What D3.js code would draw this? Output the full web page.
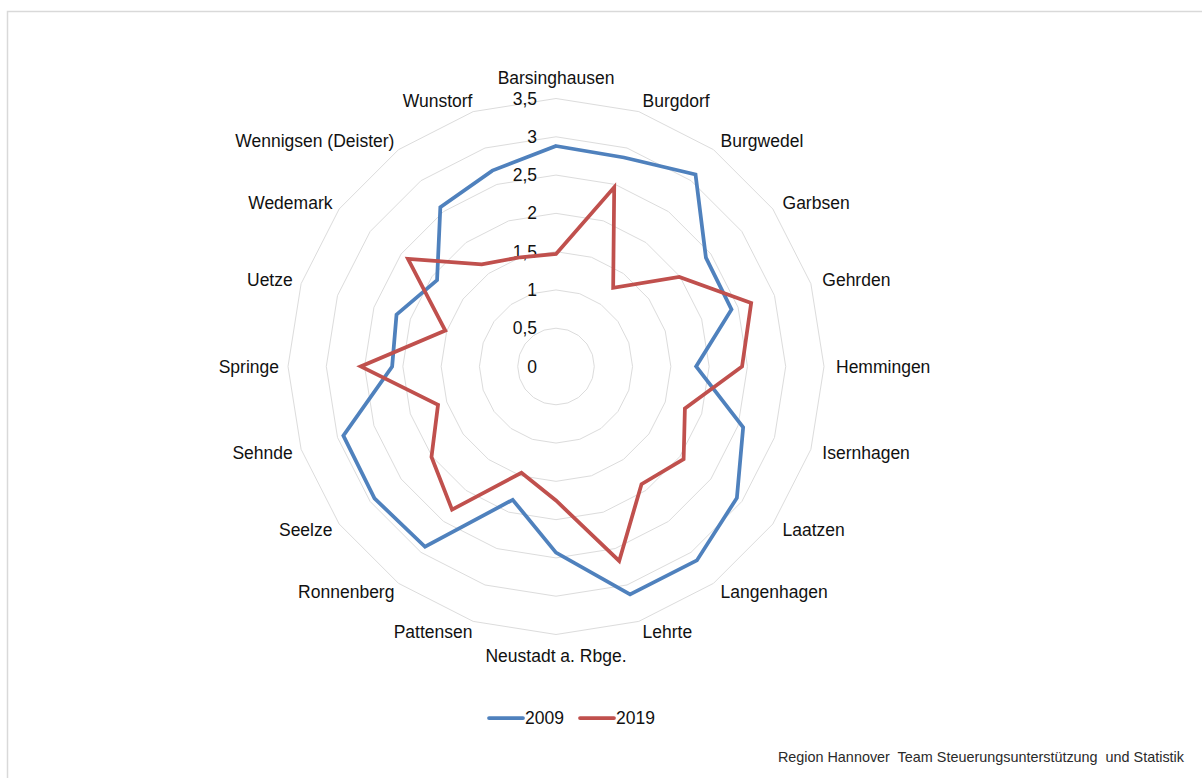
<!DOCTYPE html>
<html>
<head>
<meta charset="utf-8">
<script src="https://cdn.jsdelivr.net/npm/d3@7"></script>
<style>
  body { margin: 0; background: #fff; }
  text { font-family: "Liberation Sans", Arial, sans-serif; }
</style>
</head>
<body>
<div id="radar"></div>
<script>
// data
var categories = ["Barsinghausen", "Burgdorf", "Burgwedel", "Garbsen", "Gehrden",
  "Hemmingen", "Isernhagen", "Laatzen", "Langenhagen", "Lehrte",
  "Neustadt a. Rbge.", "Pattensen", "Ronnenberg", "Seelze", "Sehnde",
  "Springe", "Uetze", "Wedemark", "Wennigsen (Deister)", "Wunstorf"];
var values2009 = [2.88, 2.87, 3.10, 2.42, 2.41, 1.83, 2.57, 2.92, 3.13, 3.13,
  2.43, 1.83, 2.91, 2.93, 2.92, 2.14, 2.19, 1.92, 2.57, 2.69];
var values2019 = [1.47, 2.46, 1.27, 1.99, 2.68, 2.43, 1.77, 2.06, 1.90, 2.67,
  1.75, 1.46, 2.31, 2.01, 1.62, 2.55, 1.52, 2.39, 1.65, 1.50];
var tickValues = [0, 0.5, 1, 1.5, 2, 2.5, 3, 3.5];
var tickLabels = ["0", "0,5", "1", "1,5", "2", "2,5", "3", "3,5"];
var seriesNames = ["2009", "2019"];
var seriesColors = ["#4f81bd", "#c0504d"];

var width = 1202, height = 778;
var cx = 556, cy = 366.5, R = 268;

var svg = d3.select("#radar")
  .append("svg")
    .attr("width", width)
    .attr("height", height);

// outer frame
svg.append("rect")
  .attr("x", 7.5)
  .attr("y", 11.5)
  .attr("width", 1200)
  .attr("height", 800)
  .attr("fill", "none")
  .attr("stroke", "#d9d9d9")
  .attr("stroke-width", 1.5);

var r = d3.scaleLinear()
  .domain([0, 3.5])
  .range([0, R]);

var angle = d3.scaleLinear()
  .domain([0, categories.length])
  .range([0, 2 * Math.PI]);

var g = svg.append("g")
  .attr("transform", "translate(" + cx + "," + cy + ")");

// polygon grid rings
var ringLine = d3.lineRadial()
  .angle((d, i) => angle(i))
  .radius(d => r(d))
  .curve(d3.curveLinearClosed);

g.append("g")
  .selectAll("path")
  .data(tickValues.filter(t => t > 0))
  .enter()
  .append("path")
    .attr("d", t => ringLine(categories.map(() => t)))
    .attr("fill", "none")
    .attr("stroke", "#dcdcdc")
    .attr("stroke-width", 1);

// ring labels
g.append("g")
  .selectAll("text")
  .data(tickValues)
  .enter()
  .append("text")
    .attr("x", -19)
    .attr("y", d => -r(d))
    .attr("dominant-baseline", "central")
    .attr("text-anchor", "end")
    .attr("font-size", "17.5px")
    .attr("fill", "#111")
    .text((d, i) => tickLabels[i]);

// category labels
g.append("g")
  .selectAll("text")
  .data(categories)
  .enter()
  .append("text")
    .attr("x", (d, i) => {
      var s = Math.sin(angle(i));
      return (R + 12) * s + (s < -0.01 ? 3 : 0);
    })
    .attr("y", (d, i) => {
      var c = Math.cos(angle(i));
      var extra = Math.abs(c) > 0.99 ? 10 : 0;
      return -(R + 11 + extra) * c;
    })
    .attr("dominant-baseline", "central")
    .attr("text-anchor", (d, i) => {
      var s = Math.sin(angle(i));
      return Math.abs(s) < 0.01 ? "middle" : (s > 0 ? "start" : "end");
    })
    .attr("font-size", "17.5px")
    .attr("fill", "#111")
    .text(d => d);

// series lines
var seriesLine = d3.lineRadial()
  .angle((d, i) => angle(i))
  .radius(d => r(d))
  .curve(d3.curveLinearClosed);

[values2009, values2019].forEach(function(vals, k) {
  g.append("path")
    .attr("d", seriesLine(vals))
    .attr("fill", "none")
    .attr("stroke", seriesColors[k])
    .attr("stroke-width", 3.75)
    .attr("stroke-linejoin", "miter");
});

// legend
var legend = svg.append("g")
  .attr("transform", "translate(489,718)");

seriesNames.forEach(function(name, k) {
  var lx = k * 91;
  legend.append("line")
    .attr("x1", lx)
    .attr("x2", lx + 34)
    .attr("y1", 0)
    .attr("y2", 0)
    .attr("stroke", seriesColors[k])
    .attr("stroke-width", 3.75)
    .attr("stroke-linecap", "round");
  legend.append("text")
    .attr("x", lx + 36)
    .attr("y", 0)
    .attr("dominant-baseline", "central")
    .attr("font-size", "17.5px")
    .attr("fill", "#111")
    .text(name);
});

// source note
svg.append("text")
  .attr("x", 1184)
  .attr("y", 757)
  .attr("text-anchor", "end")
  .attr("dominant-baseline", "central")
  .attr("font-size", "14.4px")
  .attr("fill", "#2a2a2a")
  .attr("xml:space", "preserve")
  .style("white-space", "pre")
  .text("Region Hannover  Team Steuerungsunterstützung  und Statistik");
</script>
</body>
</html>
